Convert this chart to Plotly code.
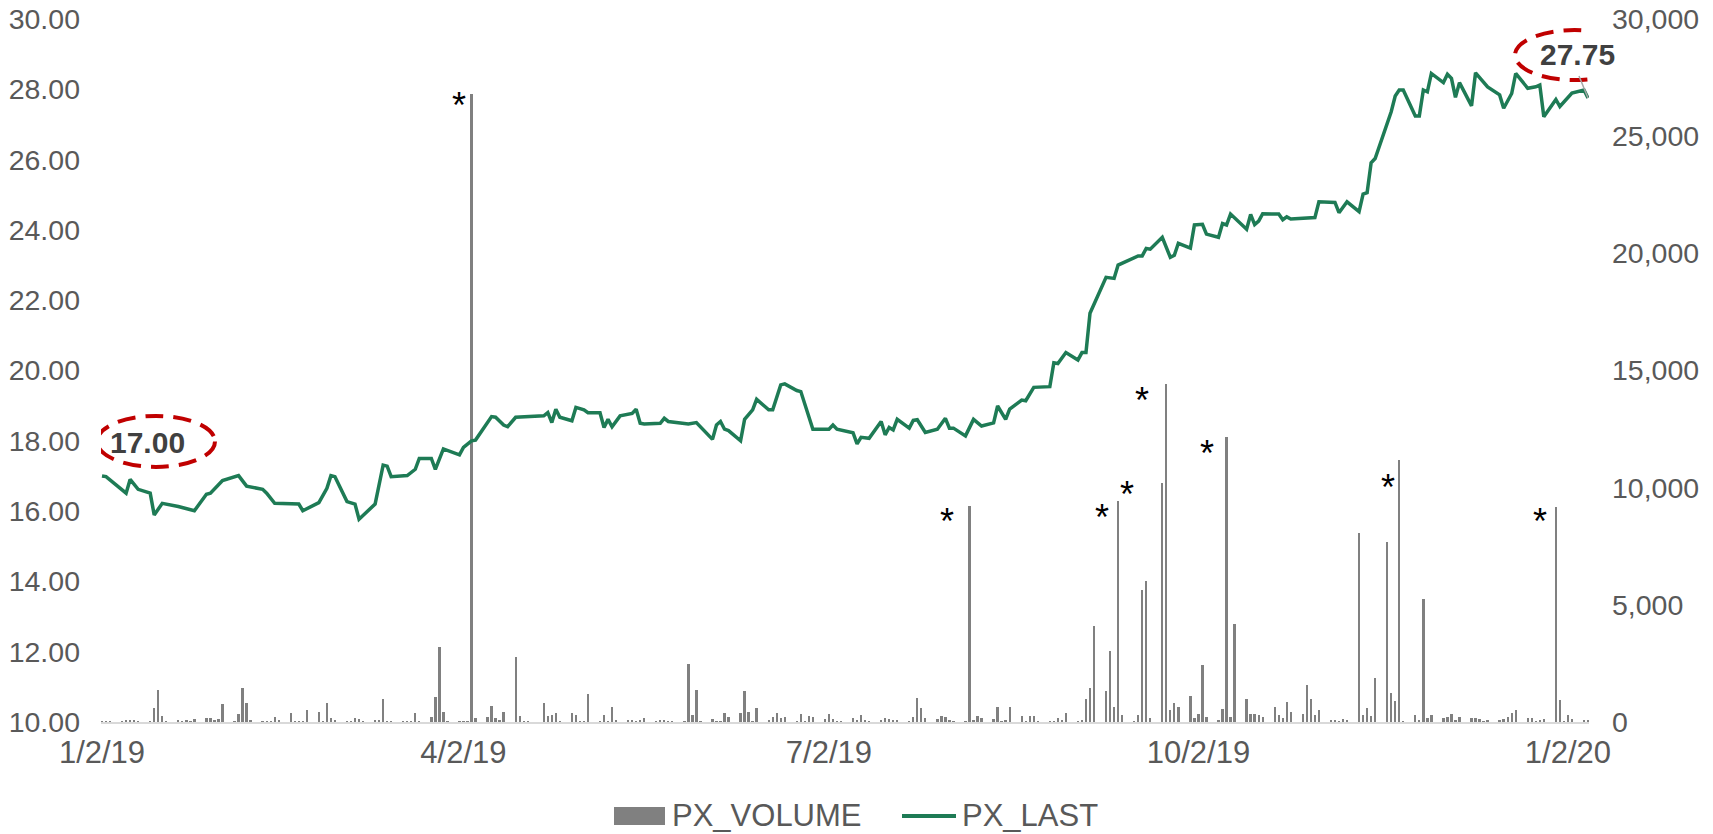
import pandas as pd
import plotly.graph_objects as go

start = pd.Timestamp("2019-01-02")

# PX_LAST: day offset from 1/2/19 and price
last_day = [0, 1, 6, 7, 9, 12, 13, 15, 19, 23, 26, 27, 30, 34, 36, 40, 41, 43, 49, 50,
            54, 56, 57, 58, 61, 63, 64, 68, 70, 71, 72, 76, 78, 79, 82, 83, 85, 89, 90, 92,
            93, 97, 98, 100, 101, 103, 110, 111, 112, 113, 114, 117, 118, 120, 121, 124, 125, 126, 127, 129,
            132, 133, 134, 135, 139, 140, 141, 146, 148, 152, 153, 154, 155, 156, 159, 160, 162, 163, 166, 167,
            169, 170, 173, 174, 177, 181, 182, 183, 187, 188, 189, 191, 194, 195, 196, 197, 198, 201, 202, 203,
            205, 208, 210, 211, 212, 215, 217, 219, 222, 223, 225, 226, 229, 230, 232, 236, 237, 238, 240, 243,
            244, 245, 246, 250, 252, 253, 258, 259, 260, 261, 264, 266, 267, 268, 271, 272, 274, 275, 278, 279,
            280, 281, 285, 286, 287, 288, 289, 293, 294, 295, 296, 302, 303, 307, 308, 310, 313, 314, 315, 316,
            317, 321, 322, 323, 324, 327, 328, 329, 330, 331, 334, 335, 336, 337, 338, 341, 342, 345, 348, 349,
            351, 352, 355, 357, 358, 359, 362, 363, 366, 369, 370]
px_last = [17.00, 16.98, 16.51, 16.90, 16.62, 16.51, 15.89, 16.22, 16.13, 16.01, 16.48, 16.51, 16.87, 17.01, 16.71, 16.62, 16.51, 16.22, 16.20, 16.01,
           16.24, 16.65, 17.01, 16.98, 16.27, 16.20, 15.77, 16.20, 17.31, 17.28, 16.98, 17.01, 17.19, 17.50, 17.50, 17.19, 17.77, 17.60, 17.81, 18.00,
           18.02, 18.69, 18.67, 18.45, 18.40, 18.67, 18.71, 18.80, 18.52, 18.90, 18.67, 18.57, 18.95, 18.88, 18.80, 18.80, 18.38, 18.61, 18.40, 18.71,
           18.78, 18.90, 18.50, 18.48, 18.50, 18.64, 18.55, 18.48, 18.52, 18.04, 18.45, 18.55, 18.33, 18.29, 18.00, 18.61, 18.88, 19.18, 18.88, 18.88,
           19.59, 19.62, 19.43, 19.40, 18.33, 18.33, 18.45, 18.33, 18.23, 17.91, 18.10, 18.07, 18.55, 18.17, 18.38, 18.31, 18.61, 18.36, 18.58, 18.60,
           18.24, 18.33, 18.64, 18.36, 18.36, 18.14, 18.61, 18.42, 18.51, 18.99, 18.61, 18.90, 19.16, 19.14, 19.52, 19.54, 20.22, 20.20, 20.51, 20.30,
           20.51, 20.51, 21.63, 22.65, 22.62, 23.00, 23.26, 23.26, 23.47, 23.45, 23.79, 23.22, 23.28, 23.62, 23.48, 24.14, 24.16, 23.88, 23.79, 24.18,
           24.14, 24.45, 24.02, 24.44, 24.15, 24.25, 24.46, 24.45, 24.29, 24.37, 24.31, 24.35, 24.80, 24.78, 24.49, 24.80, 24.52, 25.02, 25.06, 25.91,
           26.03, 27.36, 27.81, 27.98, 27.98, 27.24, 27.24, 27.98, 27.93, 28.45, 28.19, 28.43, 28.31, 27.77, 28.19, 27.53, 28.47, 28.07, 27.84, 27.46,
           27.88, 28.45, 28.03, 28.07, 28.12, 27.22, 27.71, 27.51, 27.89, 27.98, 27.75]

# PX_VOLUME, one row per trading week (Mon..Fri)
px_volume = [
    40, 40, 20,                     # Jan 2-4
    40, 55, 85, 70, 40,             # Jan 7
    40, 580, 1380, 256, 40,
    50, 40, 50, 40, 110,
    155, 185, 70, 110, 780,
    30, 325, 1460, 795, 85,         # Feb 4
    40, 40, 40, 227, 70,
    400, 40, 40, 40, 500,
    410, 40, 795, 185, 85,
    40, 40, 155, 115, 40,           # Mar 4
    50, 70, 980, 40, 30,
    30, 40, 40, 385, 40,
    213, 1065, 3180, 425, 40,
    40, 40, 40, 26800, 185,         # Apr 1
    227, 667, 156, 85, 440,
    2755, 256, 40, 20, 0,
    824, 241, 298, 383, 40,
    398, 284, 40, 40, 1207,
    40, 284, 40, 653, 70,           # May 6
    70, 85, 40, 70, 185,
    40, 100, 100, 40, 40,
    30, 2485, 298, 1363, 40,
    110, 40, 40, 370, 200,          # Jun 3
    385, 1306, 440, 40, 580,
    70, 227, 398, 185, 213,
    40, 355, 40, 270, 213,
    110, 355, 110, 40, 40,          # Jul 1
    170, 100, 312, 70, 40,
    85, 155, 128, 55, 100,
    40, 213, 1008, 580, 155,
    110, 241, 200, 100, 40,
    40, 9200, 85, 256, 185,         # Aug 5
    142, 625, 40, 70, 653,
    270, 40, 241, 241, 40,
    40, 40, 155, 100, 398,
    40, 70, 1000, 1450, 4096,       # Sep 2
    1323, 3030, 640, 9443, 299,
    20, 299, 5632, 6030, 170,
    10184, 14422, 512, 825, 626,
    1109, 170, 341, 2432, 228,
    85, 540, 12174, 228, 4168,      # Oct 7
    981, 327, 327, 299, 199,
    654, 299, 185, 839, 441,
    327, 1579, 981, 299, 512,
    85, 85, 40, 128, 85,            # Nov 4
    8078, 299, 583, 256, 1863,
    7694, 1223, 910, 11179, 20,
    299, 85, 5248, 170, 299,
    170, 199, 327, 85, 228,         # Dec 2
    170, 170, 114, 40, 57,
    85, 114, 228, 370, 512,
    170, 170, 20, 85, 128,
    9187, 939, 20, 299, 114,        # Dec 30
    57, 57,                         # Jan 6-7
]
trade_days = pd.bdate_range("2019-01-02", "2020-01-07")

# bars flagged with an asterisk
starred = ["2019-04-04", "2019-08-06", "2019-09-12", "2019-09-23",
           "2019-09-24", "2019-10-09", "2019-11-21", "2019-12-30"]
star_off = [(-12, 4), (-23, 7), (-16, 9), (-35, 3), (-24, 8), (-20, 9), (-11, 19), (-16, 7)]

tick_dates = ["2019-01-02", "2019-04-02", "2019-07-02", "2019-10-02", "2020-01-02"]
tick_text = ["1/2/19", "4/2/19", "7/2/19", "10/2/19", "1/2/20"]

FONT = "Liberation Sans, Arial, sans-serif"
GREY_TXT = "#595959"
GREEN = "#1E7B55"
BAR = "#808080"
RED = "#C00000"

W, H = 1713, 834
L, R, T, B = 101, 124, 19, 112


def px(x):
    return (x - L) / (W - L - R)


def py(y):
    return (H - B - y) / (H - T - B)


last_dates = start + pd.to_timedelta(last_day, unit="D")
vol = pd.Series(px_volume, index=trade_days)

fig = go.Figure()
fig.add_trace(go.Bar(x=trade_days, y=px_volume, name="PX_VOLUME", marker_color=BAR,
                     marker_line_width=0, width=0.58 * 86400000, yaxis="y"))
fig.add_trace(go.Scatter(x=last_dates, y=px_last, name="PX_LAST", mode="lines",
                         line=dict(color=GREEN, width=3.5), yaxis="y2"))

ann = []
for d, (dx, dy) in zip(starred, star_off):
    ann.append(dict(x=d, y=vol[pd.Timestamp(d)], xref="x", yref="y", text="*", showarrow=False,
                    xanchor="center", yanchor="middle", xshift=dx, yshift=-(dy + 8),
                    font=dict(family=FONT, size=36, color="black")))

first_x, last_x = last_dates[0], last_dates[-1]
ann.append(dict(x=first_x, y=px_last[0], xref="x", yref="y2", text=f"<b>{px_last[0]:.2f}</b>",
                showarrow=False, xshift=45, yshift=33,
                font=dict(family=FONT, size=30, color="#404040")))
ann.append(dict(x=last_x, y=px_last[-1], xref="x", yref="y2", text=f"<b>{px_last[-1]:.2f}</b>",
                showarrow=False, xshift=-11, yshift=44,
                font=dict(family=FONT, size=30, color="#404040")))

# legend, drawn by hand
ann.append(dict(x=px(671), y=py(815), xref="paper", yref="paper", text="PX_VOLUME", showarrow=False,
                xanchor="left", yanchor="middle", borderpad=0,
                font=dict(family=FONT, size=31, color=GREY_TXT)))
ann.append(dict(x=px(961), y=py(815), xref="paper", yref="paper", text="PX_LAST", showarrow=False,
                xanchor="left", yanchor="middle", borderpad=0,
                font=dict(family=FONT, size=31, color=GREY_TXT)))

ring = dict(color=RED, width=4, dash="18px,10px")
shapes = [
    dict(type="circle", xref="x", yref="y2", xsizemode="pixel", ysizemode="pixel",
         xanchor=first_x, yanchor=px_last[0], x0=-5, x1=113, y0=9, y1=60, line=ring),
    dict(type="circle", xref="x", yref="y2", xsizemode="pixel", ysizemode="pixel",
         xanchor=last_x, yanchor=px_last[-1], x0=-73, x1=46, y0=18, y1=68, line=ring),
    dict(type="line", xref="x", yref="y2", xsizemode="pixel", ysizemode="pixel",
         xanchor=last_x, yanchor=px_last[-1], x0=-9, x1=0, y0=22, y1=0,
         line=dict(color="#A6A6A6", width=1.5)),
    dict(type="rect", xref="paper", yref="paper", x0=px(614), x1=px(665), y0=py(825), y1=py(807),
         fillcolor=BAR, line_width=0),
    dict(type="line", xref="paper", yref="paper", x0=px(902), x1=px(956), y0=py(816), y1=py(816),
         line=dict(color=GREEN, width=4)),
]

fig.update_layout(
    width=W, height=H,
    margin=dict(l=L, r=R, t=T, b=B, pad=0),
    paper_bgcolor="white", plot_bgcolor="white",
    showlegend=False,
    font=dict(family=FONT, color=GREY_TXT),
    xaxis=dict(type="date", range=["2019-01-01 18:00", "2020-01-07 06:00"],
               tickvals=tick_dates, ticktext=tick_text, ticks="", ticklabelstandoff=2,
               tickfont=dict(size=31, color=GREY_TXT), showgrid=False, zeroline=False,
               showline=True, linecolor="#D9D9D9", linewidth=1.5, automargin=False),
    yaxis=dict(side="right", range=[0, 30000], tickvals=list(range(0, 30001, 5000)),
               tickformat=",", ticks="", ticklabelstandoff=22, automargin=False,
               tickfont=dict(size=28.5, color=GREY_TXT), showgrid=False, zeroline=False, showline=False),
    yaxis2=dict(side="left", overlaying="y", range=[10, 30], dtick=2, tickformat=".2f",
                ticks="", ticklabelstandoff=20, tickfont=dict(size=28.5, color=GREY_TXT),
                showgrid=False, zeroline=False, showline=False, automargin=False),
    bargap=0,
    annotations=ann,
    shapes=shapes,
)

# page body has an 8px default margin; drop it so the figure sits at 0,0
fig.write_html("out.html", config={"displayModeBar": False},
               post_script="document.body.style.margin = '0';")
